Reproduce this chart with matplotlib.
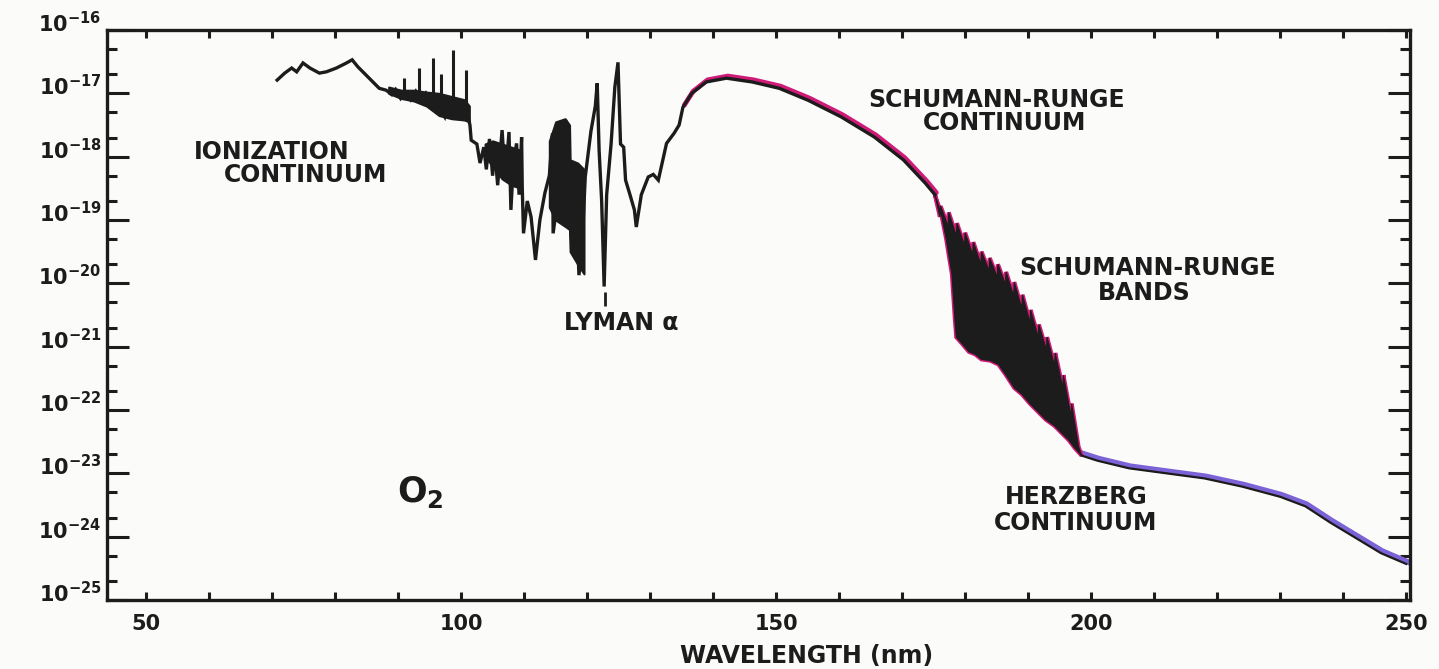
import numpy as np
import matplotlib
matplotlib.use("Agg")
import matplotlib.pyplot as plt
from matplotlib import transforms
from matplotlib.ticker import FixedLocator, MultipleLocator, LogLocator, NullFormatter

# O2 absorption cross section, log10(sigma / cm^2) against wavelength (nm)

# ionization continuum -> Lyman alpha window -> Schumann-Runge continuum
trace_nm = [70.8, 72.0, 73.1, 73.9, 74.9, 76.0, 77.5, 78.6, 80.2, 81.8, 82.7, 83.6, 85.4, 87.0, 88.1,
            89.0, 89.6, 90.4, 91.2, 92.0, 92.8, 93.6, 94.4, 95.2, 96.3, 97.0, 97.4, 98.0, 98.4, 99.2,
            100.0, 100.6, 101.1, 101.4, 101.6, 102.5, 103.0, 103.6, 104.0, 104.5, 105.0, 105.3, 105.8,
            106.5, 107.0, 107.6, 107.9, 108.3, 108.8, 109.2, 109.6, 109.7, 109.9, 110.5, 111.1, 111.8,
            112.5, 113.3, 114.0, 114.5, 114.6, 115.3, 116.6, 117.2, 117.5, 118.2, 118.7, 119.2, 119.7,
            120.6, 121.3, 121.6, 121.9, 122.3, 122.7, 123.1, 123.8, 124.4, 124.9, 125.3, 125.8, 126.1,
            126.8, 127.5, 127.8, 128.6, 129.7, 130.5, 131.3, 132.6, 133.8, 134.6, 135.2, 136.6, 138.9,
            142.1, 146.2, 150.5, 155.1, 160.3, 165.6, 170.2, 173.7, 175.2]
trace_log = [-16.79, -16.68, -16.60, -16.66, -16.52, -16.60, -16.68, -16.66, -16.60, -16.52, -16.47, -16.58, -16.76, -16.92, -16.95,
             -17.02, -16.94, -17.08, -16.98, -17.10, -16.97, -17.12, -17.00, -17.15, -17.05, -17.30, -17.37, -17.15, -17.31, -17.18,
             -17.22, -17.30, -17.37, -17.50, -17.74, -17.80, -18.10, -17.85, -18.20, -17.72, -18.30, -17.85, -18.45,
             -17.58, -18.37, -17.61, -18.84, -18.10, -17.79, -18.60, -17.69, -18.48, -19.21, -18.70, -18.95, -19.63,
             -19.00, -18.57, -18.30, -17.63, -19.21, -18.69, -17.42, -18.20, -19.30, -18.60, -19.87, -19.40, -18.32,
             -17.60, -17.20, -16.84, -17.90, -18.69, -20.05, -18.60, -17.80, -16.90, -16.51, -17.80, -17.85, -18.37,
             -18.60, -18.84, -19.11, -18.60, -18.32, -18.28, -18.37, -17.79, -17.63, -17.50, -17.22, -17.00, -16.82,
             -16.76, -16.82, -16.92, -17.11, -17.37, -17.69, -18.05, -18.42, -18.60]

# dense line clusters in the ionization region
dense1_nm = [88.5, 90.5, 92.5, 94.5, 96.5, 98.5, 100.5, 101.3]
dense1_hi = [-16.90, -16.95, -16.95, -16.98, -17.00, -17.05, -17.10, -17.20]
dense1_lo = [-17.00, -17.08, -17.12, -17.20, -17.35, -17.40, -17.42, -17.45]
dense2_nm = [103.8, 105.0, 106.5, 108.0, 109.5]
dense2_hi = [-17.80, -17.75, -17.80, -17.85, -17.90]
dense2_lo = [-18.00, -18.15, -18.35, -18.45, -18.50]
dense3_nm = [114.0, 115.0, 116.5, 117.2, 117.3, 118.5, 119.5]
dense3_hi = [-17.75, -17.45, -17.40, -17.50, -18.05, -18.10, -18.20]
dense3_lo = [-18.80, -19.00, -19.10, -19.15, -19.50, -19.70, -19.85]

spike_nm = [91.0, 93.3, 95.5, 96.8, 98.7, 100.8]
spike_top = [-16.75, -16.60, -16.44, -16.70, -16.32, -16.63]
spike_base = [-17.05, -17.05, -17.10, -17.20, -17.20, -17.30]

# Schumann-Runge bands: upper (saw-tooth) and lower edges
sr_up_nm = [175.2, 176.0, 176.1, 177.3, 177.4, 178.6, 178.7, 179.9, 180.0, 181.2, 181.3, 182.5, 182.6,
            183.8, 183.9, 185.1, 185.2, 186.4, 186.5, 187.7, 187.8, 189.0, 189.1, 190.3, 190.4, 191.6,
            191.7, 192.9, 193.0, 194.2, 194.3, 195.5, 195.6, 196.8, 196.9, 198.0, 198.5]
sr_up_log = [-18.60, -18.95, -18.78, -19.10, -18.88, -19.25, -19.05, -19.40, -19.20, -19.55, -19.35, -19.70, -19.50,
             -19.80, -19.60, -19.90, -19.70, -20.02, -19.82, -20.20, -19.98, -20.40, -20.18, -20.62, -20.42, -20.85,
             -20.65, -21.05, -20.85, -21.30, -21.10, -21.65, -21.45, -22.10, -21.90, -22.58, -22.72]
sr_lo_nm = [175.2, 176.2, 177.0, 177.4, 177.9, 178.4, 178.6, 179.5, 180.6, 181.6, 182.6, 184.0, 185.3,
            186.5, 187.8, 189.0, 190.3, 191.5, 192.8, 194.2, 195.5, 196.5, 197.4, 198.5]
sr_lo_log = [-18.60, -18.90, -19.30, -19.55, -19.85, -20.60, -20.85, -20.95, -21.08, -21.12, -21.20, -21.22, -21.28,
             -21.45, -21.65, -21.75, -21.90, -22.02, -22.15, -22.25, -22.38, -22.48, -22.60, -22.72]

# Herzberg continuum
herz_nm = [198.5, 201.0, 206.0, 212.0, 218.0, 224.0, 230.0, 234.0, 238.0, 242.0, 246.0, 250.0]
herz_log = [-22.72, -22.80, -22.92, -23.00, -23.08, -23.21, -23.37, -23.52, -23.78, -24.02, -24.26, -24.43]

decades = [-25, -24, -23, -22, -21, -20, -19, -18, -17, -16]
xtick_major = [50, 100, 150, 200, 250]

ink = "#1c1c1c"
magenta = "#cf1a78"
violet = "#7b62d6"

def sig(v):
    return 10.0 ** np.asarray(v)

plt.rcParams["font.family"] = ["DejaVu Sans"]
plt.rcParams["font.weight"] = "bold"
plt.rcParams["mathtext.default"] = "bf"

fig = plt.figure(figsize=(14.39, 6.69), dpi=100, facecolor="#fbfbf9")
ax = fig.add_axes([0.0744, 0.1031, 0.9054, 0.852])
ax.set_facecolor("#fbfbf9")
ax.set_yscale("log")
ax.set_xlim(43.8, 250.6)
ax.set_ylim(1e-25, 1e-16)

# coloured highlight drawn just beside the black trace
shift = transforms.offset_copy(ax.transData, fig=fig, x=1.0, y=1.5, units="points")
i0 = trace_nm.index(135.2)
ax.plot(trace_nm[i0:], sig(trace_log[i0:]), color=magenta, lw=3.5, transform=shift,
        solid_capstyle="round", zorder=2)
ax.plot(herz_nm, sig(herz_log), color=violet, lw=4.0, transform=shift, zorder=2)

band_x = sr_up_nm + sr_lo_nm[::-1]
band_y = list(sig(sr_up_log)) + list(sig(sr_lo_log[::-1]))
ax.fill(band_x, band_y, facecolor=magenta, edgecolor=magenta, lw=3.0, zorder=2)
ax.fill(band_x, band_y, facecolor=ink, edgecolor=ink, lw=0.8, zorder=3)

# black spectrum
for nm, hi, lo in [(dense1_nm, dense1_hi, dense1_lo), (dense2_nm, dense2_hi, dense2_lo),
                   (dense3_nm, dense3_hi, dense3_lo)]:
    ax.fill_between(nm, sig(lo), sig(hi), color=ink, lw=1.5, zorder=3)
ax.vlines(spike_nm, sig(spike_base), sig(spike_top), color=ink, lw=2.2, zorder=3)
ax.plot(trace_nm, sig(trace_log), color=ink, lw=2.4, solid_joinstyle="miter", zorder=4)
ax.plot(herz_nm, sig(herz_log), color=ink, lw=1.6, zorder=4)

# labels
tkw = dict(color=ink, fontsize=17, fontweight="bold", ha="center", va="center")
ax.text(69.9, sig(-17.93), "IONIZATION", **tkw)
ax.text(75.3, sig(-18.29), "CONTINUUM", **tkw)
ax.text(125.4, sig(-20.62), "LYMAN α", **tkw)
ax.vlines(122.8, sig(-20.35), sig(-20.13), color=ink, lw=2)
ax.text(185.0, sig(-17.11), "SCHUMANN-RUNGE", **tkw)
ax.text(186.3, sig(-17.47), "CONTINUUM", **tkw)
ax.text(208.9, sig(-19.76), "SCHUMANN-RUNGE", **tkw)
ax.text(208.4, sig(-20.15), "BANDS", **tkw)
ax.text(197.6, sig(-23.38), "HERZBERG", **tkw)
ax.text(197.5, sig(-23.79), "CONTINUUM", **tkw)
ax.text(93.5, sig(-23.30), r"$\mathbf{O_2}$", color=ink, fontsize=25, ha="center", va="center")

# axes frame and ticks
for s in ax.spines.values():
    s.set_linewidth(2.4)
    s.set_color(ink)
ax.xaxis.set_major_locator(FixedLocator(xtick_major))
ax.xaxis.set_minor_locator(MultipleLocator(10))
ax.set_xticklabels([str(v) for v in xtick_major])
ax.yaxis.set_major_locator(FixedLocator(sig(decades)))
ax.yaxis.set_minor_locator(LogLocator(base=10, subs=(2.0, 5.0), numticks=30))
ax.yaxis.set_minor_formatter(NullFormatter())
ax.set_yticklabels([r"$\mathbf{10^{%d}}$" % d for d in decades])
ax.tick_params(axis="x", which="both", direction="in", top=True, length=6, width=2.2,
               color=ink, labelsize=15, labelcolor=ink, pad=10)
ax.tick_params(axis="y", which="major", direction="in", right=True, length=16, width=2.2,
               color=ink, labelsize=15, labelcolor=ink, pad=4)
ax.tick_params(axis="y", which="minor", direction="in", right=True, length=7, width=2.2, color=ink)
lift = transforms.ScaledTranslation(0, 6 / 72, fig.dpi_scale_trans)
for lbl in ax.get_yticklabels():
    lbl.set_transform(lbl.get_transform() + lift)
for lbl in ax.get_xticklabels():
    lbl.set_fontweight("bold")

ax.set_xlabel("WAVELENGTH (nm)", fontsize=17, fontweight="bold", color=ink)
ax.xaxis.set_label_coords(0.537, -0.077)

fig.savefig("out.png", dpi=100, facecolor=fig.get_facecolor())
